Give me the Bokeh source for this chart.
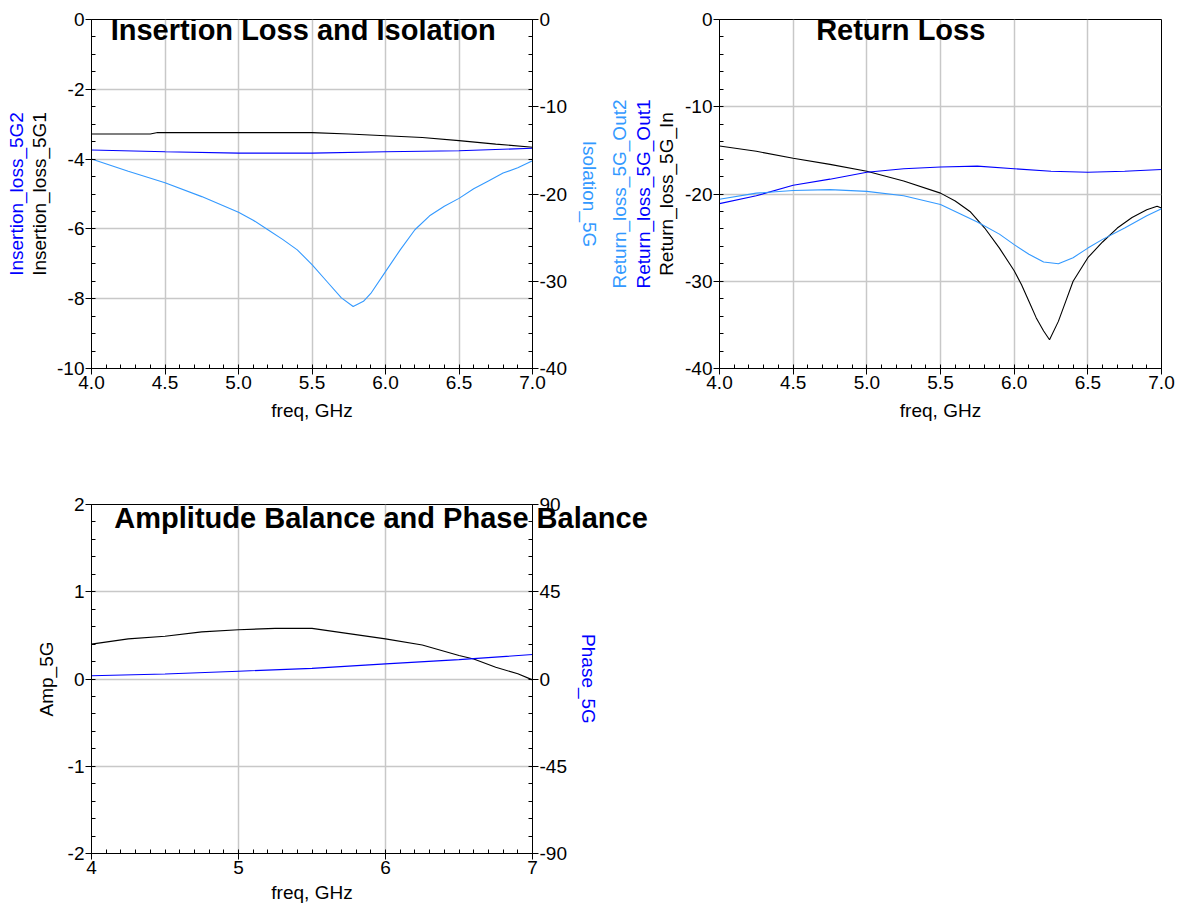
import numpy as np
from bokeh.plotting import figure
from bokeh.models import LinearAxis, Range1d, FixedTicker, Label
from bokeh.layouts import column, row
from bokeh.embed import file_html
from bokeh.resources import INLINE

FONT = "Liberation Sans"
BLACK = "#000000"
BLUE = "#0000ff"
LBLUE = "#3399ff"
GRID = "#c8c8c8"

# ---------------- data: Insertion loss & isolation ----------------
il_freq = [4.0, 4.4, 4.45, 5.0, 5.5, 5.75, 6.0, 6.25, 6.5, 6.75, 7.0]
il_5g1 = [-3.28, -3.28, -3.24, -3.24, -3.24, -3.28, -3.33, -3.38, -3.47, -3.57, -3.66]
il_freq2 = [4.0, 4.5, 5.0, 5.5, 6.0, 6.5, 7.0]
il_5g2 = [-3.74, -3.79, -3.83, -3.83, -3.79, -3.76, -3.69]
iso_freq = [4.0, 4.25, 4.5, 4.75, 5.0, 5.1, 5.2, 5.3, 5.4, 5.5, 5.6, 5.7, 5.78,
            5.85, 5.9, 6.0, 6.1, 6.2, 6.3, 6.4, 6.5, 6.6, 6.7, 6.8, 6.9, 7.0]
iso_5g = [-16.0, -17.4, -18.7, -20.3, -22.1, -23.0, -24.1, -25.2, -26.4, -28.1, -30.0,
          -31.9, -32.9, -32.3, -31.4, -28.9, -26.4, -24.1, -22.5, -21.4, -20.5, -19.4,
          -18.5, -17.6, -17.0, -16.2]

# ---------------- data: Return loss ----------------
rl_in_freq = [4.0, 4.25, 4.5, 4.75, 5.0, 5.25, 5.5, 5.6, 5.7, 5.8, 5.9, 6.0, 6.05, 6.1,
              6.15, 6.2, 6.24, 6.3, 6.35, 6.4, 6.5, 6.6, 6.7, 6.8, 6.9, 6.97, 7.0]
rl_in = [-14.5, -15.1, -15.9, -16.6, -17.4, -18.5, -19.9, -20.8, -22.0, -23.9, -26.2,
         -28.8, -30.4, -32.3, -34.2, -35.7, -36.7, -34.6, -32.3, -30.0, -27.3, -25.5,
         -23.9, -22.7, -21.8, -21.4, -21.6]
rl_out1_freq = [4.0, 4.25, 4.5, 4.75, 5.0, 5.25, 5.5, 5.75, 6.0, 6.25, 6.5, 6.75, 7.0]
rl_out1 = [-21.1, -20.2, -19.0, -18.3, -17.5, -17.1, -16.9, -16.8, -17.1, -17.4, -17.5,
           -17.4, -17.2]
rl_out2_freq = [4.0, 4.25, 4.5, 4.75, 5.0, 5.25, 5.5, 5.75, 5.9, 6.0, 6.1, 6.2, 6.3,
                6.4, 6.5, 6.6, 6.75, 6.9, 7.0]
rl_out2 = [-20.6, -19.9, -19.6, -19.5, -19.7, -20.2, -21.2, -23.2, -24.6, -25.8, -26.9,
           -27.8, -28.0, -27.3, -26.2, -25.2, -23.9, -22.5, -21.7]

# ---------------- data: Amplitude & phase balance ----------------
amp_freq = [4.0, 4.25, 4.5, 4.75, 5.0, 5.25, 5.5, 5.75, 6.0, 6.25, 6.5, 6.6, 6.75, 6.9, 7.0]
amp_5g = [0.40, 0.46, 0.49, 0.54, 0.565, 0.58, 0.58, 0.52, 0.46, 0.39, 0.27, 0.23, 0.135,
          0.06, -0.01]
ph_freq = [4.0, 4.5, 5.0, 5.5, 6.0, 6.5, 7.0]
ph_5g = [1.7, 2.6, 4.0, 5.5, 7.8, 10.0, 12.6]

# tick values
x_ticks_top = [4.0, 4.5, 5.0, 5.5, 6.0, 6.5, 7.0]
x_ticks_bot = [4, 5, 6, 7]
il_ticks = [-10, -8, -6, -4, -2, 0]
db_ticks = [-40, -30, -20, -10, 0]
amp_ticks = [-2, -1, 0, 1, 2]
ph_ticks = [-90, -45, 0, 45, 90]

TICK_SIZE = "19px"
LAB_SIZE = "19px"


def style_axis(ax, ticks, minor, labels, standoff):
    ax.ticker = FixedTicker(ticks=ticks, minor_ticks=minor)
    ax.major_label_overrides = labels
    ax.axis_line_color = BLACK
    ax.major_tick_line_color = BLACK
    ax.minor_tick_line_color = BLACK
    ax.major_tick_out = 6
    ax.major_tick_in = 0
    ax.minor_tick_out = 0
    ax.minor_tick_in = 4
    ax.major_label_standoff = 1
    ax.major_label_text_font = FONT
    ax.major_label_text_font_size = TICK_SIZE
    ax.major_label_text_color = BLACK
    ax.axis_label_text_font = FONT
    ax.axis_label_text_font_size = LAB_SIZE
    ax.axis_label_text_font_style = "normal"
    ax.axis_label_text_color = BLACK
    ax.axis_label_standoff = standoff


def label_axis(text, color):
    ax = LinearAxis(ticker=FixedTicker(ticks=[]), axis_label=text)
    ax.axis_line_color = None
    ax.major_tick_line_color = None
    ax.minor_tick_line_color = None
    ax.major_tick_out = 0
    ax.major_tick_in = 0
    ax.minor_tick_out = 0
    ax.minor_tick_in = 0
    ax.axis_label_standoff = 0
    ax.axis_label_text_font = FONT
    ax.axis_label_text_font_size = LAB_SIZE
    ax.axis_label_text_font_style = "normal"
    ax.axis_label_text_color = color
    return ax


def finish(p):
    p.outline_line_color = BLACK
    p.background_fill_color = "white"
    p.border_fill_color = "white"
    p.grid.grid_line_color = GRID
    p.grid.grid_line_width = 1.5


def make_title(x, y, text):
    return Label(x=x, y=y, text=text, text_font=FONT, text_font_size="29px",
                 text_font_style="bold", text_align="center",
                 text_baseline="alphabetic", text_color=BLACK)


def txt(vals, fmt="{:d}"):
    return {v: fmt.format(v) for v in vals}


fmt1 = txt(x_ticks_top, "{:.1f}")

# ---------------- panel 1 ----------------
p1 = figure(frame_width=441, frame_height=349, x_range=Range1d(4, 7), y_range=Range1d(-10, 0),
            output_backend="svg", toolbar_location=None,
            min_border_left=91, min_border_right=72, min_border_top=19, min_border_bottom=60)
p1.extra_y_ranges = {"iso": Range1d(-40, 0)}
finish(p1)
style_axis(p1.xaxis[0], x_ticks_top, list(np.arange(4.0, 7.001, 0.1)), fmt1, 8)
p1.xaxis[0].axis_label = "freq, GHz"
style_axis(p1.yaxis[0], il_ticks, list(np.arange(-10, 0.001, 0.5)), txt(il_ticks), 4)
p1.yaxis[0].axis_label = "Insertion_loss_5G1"
p1.add_layout(label_axis("Insertion_loss_5G2", BLUE), "left")
ax_iso = LinearAxis(y_range_name="iso")
style_axis(ax_iso, db_ticks, list(np.arange(-40, 0.001, 2)), txt(db_ticks), 9)
ax_iso.axis_label = "Isolation_5G"
ax_iso.axis_label_text_color = LBLUE
p1.add_layout(ax_iso, "right")
p1.xgrid.ticker = FixedTicker(ticks=x_ticks_top)
p1.ygrid.ticker = FixedTicker(ticks=il_ticks)
p1.line(il_freq, il_5g1, color=BLACK, line_width=1.1)
p1.line(il_freq2, il_5g2, color=BLUE, line_width=1.1)
p1.line(iso_freq, iso_5g, color=LBLUE, line_width=1.1, y_range_name="iso")
p1.add_layout(make_title(5.44, -0.29, "Insertion Loss and Isolation"))

# ---------------- panel 2 ----------------
p2 = figure(frame_width=442, frame_height=349, x_range=Range1d(4, 7), y_range=Range1d(-40, 0),
            output_backend="svg", toolbar_location=None,
            min_border_left=115, min_border_right=17, min_border_top=19, min_border_bottom=60)
finish(p2)
style_axis(p2.xaxis[0], x_ticks_top, list(np.arange(4.0, 7.001, 0.1)), fmt1, 8)
p2.xaxis[0].axis_label = "freq, GHz"
style_axis(p2.yaxis[0], db_ticks, list(np.arange(-40, 0.001, 2)), txt(db_ticks), 5)
p2.yaxis[0].axis_label = "Return_loss_5G_In"
p2.add_layout(label_axis("Return_loss_5G_Out1", BLUE), "left")
p2.add_layout(label_axis("Return_loss_5G_Out2", LBLUE), "left")
p2.xgrid.ticker = FixedTicker(ticks=x_ticks_top)
p2.ygrid.ticker = FixedTicker(ticks=db_ticks)
p2.line(rl_in_freq, rl_in, color=BLACK, line_width=1.1)
p2.line(rl_out1_freq, rl_out1, color=BLUE, line_width=1.1)
p2.line(rl_out2_freq, rl_out2, color=LBLUE, line_width=1.1)
p2.add_layout(make_title(5.23, -1.26, "Return Loss"))

# ---------------- panel 3 ----------------
p3 = figure(frame_width=441, frame_height=349, x_range=Range1d(4, 7), y_range=Range1d(-2, 2),
            output_backend="svg", toolbar_location=None,
            min_border_left=91, min_border_right=130, min_border_top=76, min_border_bottom=55)
p3.extra_y_ranges = {"ph": Range1d(-90, 90)}
finish(p3)
style_axis(p3.xaxis[0], x_ticks_bot, list(np.arange(4.0, 7.001, 0.1)), txt(x_ticks_bot), 5)
p3.xaxis[0].axis_label = "freq, GHz"
style_axis(p3.yaxis[0], amp_ticks, list(np.arange(-2, 2.001, 0.2)), txt(amp_ticks), 8)
p3.yaxis[0].axis_label = "Amp_5G"
ax_ph = LinearAxis(y_range_name="ph")
style_axis(ax_ph, ph_ticks, list(np.arange(-90, 90.001, 9)), txt(ph_ticks), 8)
ax_ph.axis_label = "Phase_5G"
ax_ph.axis_label_text_color = BLUE
p3.add_layout(ax_ph, "right")
p3.xgrid.ticker = FixedTicker(ticks=x_ticks_bot)
p3.ygrid.ticker = FixedTicker(ticks=amp_ticks)
p3.line(amp_freq, amp_5g, color=BLACK, line_width=1.1)
p3.line(ph_freq, ph_5g, color=BLUE, line_width=1.1, y_range_name="ph")
p3.add_layout(make_title(5.97, 1.85, "Amplitude Balance and Phase Balance"), "above")

layout = column(row(p1, p2), p3)
open("out.html", "w").write(file_html(layout, INLINE))
